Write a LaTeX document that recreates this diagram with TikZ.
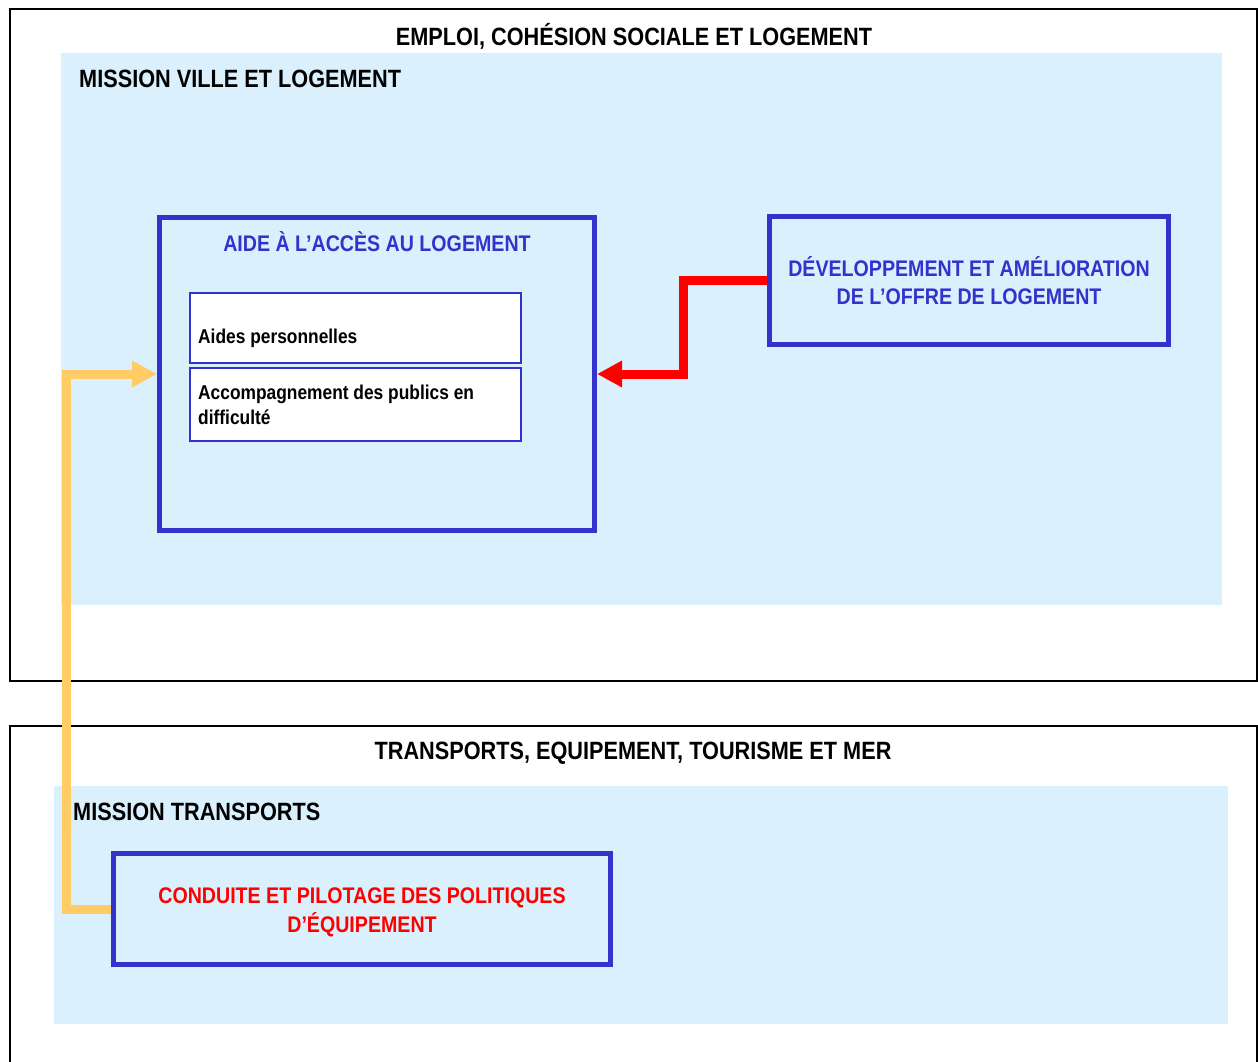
\documentclass[tikz,border=0pt]{standalone}
\usepackage{fontspec}
\setmainfont{Liberation Sans}[FakeStretch=0.868]
\usetikzlibrary{arrows.meta}
\definecolor{ministere}{HTML}{3333CC}
\definecolor{panneau}{HTML}{DAF0FD}
\definecolor{orangefleche}{HTML}{FFCC66}
\begin{document}
\begin{tikzpicture}[x=1pt,y=-1pt,
    cadre/.style={draw=black,line width=1.8pt,minimum width=1247pt,anchor=north west,inner sep=0pt},
    fond/.style={fill=panneau,draw=none,anchor=north west,inner sep=0pt},
    action/.style={draw=ministere,line width=5pt,anchor=north west,inner sep=0pt,
      align=center,font=\bfseries\fontsize{22.6}{28}\selectfont},
    sousaction/.style={draw=ministere,fill=white,line width=1.5pt,anchor=north west,
      minimum width=331pt,inner sep=0pt},
    titre/.style={font=\bfseries\fontsize{25}{29}\selectfont,inner sep=0pt},
    texte/.style={font=\bfseries\fontsize{20}{25}\selectfont,inner sep=0pt,anchor=west,align=left},
    fleche/.style={line width=9pt,-{Triangle[length=25pt,width=25pt]}}]
  \useasboundingbox (0,0) rectangle (1258,1062);
  % emploi, cohesion sociale et logement
  \node[cadre,minimum height=672pt] (emploi) at (9,8) {};
  \node[titre] (temploi) at (634,36) {EMPLOI, COHÉSION SOCIALE ET LOGEMENT};
  \node[fond,minimum width=1161pt,minimum height=552pt] (ville) at (61,53) {};
  \node[titre,anchor=west] (tville) at (79,79) {MISSION VILLE ET LOGEMENT};
  \node[action,minimum width=435pt,minimum height=313pt] (aide) at (157,215) {};
  \node[text=ministere,font=\bfseries\fontsize{22.6}{28}\selectfont,inner sep=0pt]
    (taide) at (377,242) {AIDE À L’ACCÈS AU LOGEMENT};
  \node[sousaction,minimum height=70pt] (perso) at (189,292) {};
  \node[texte] (tperso) at (198,338) {Aides personnelles};
  \node[sousaction,minimum height=73pt] (publics) at (189,367) {};
  \node[texte] (tpublics) at (198,405) {Accompagnement des publics en\\difficulté};
  \node[action,minimum width=399pt,minimum height=128pt,text=ministere] (offre) at (767,214)
    {DÉVELOPPEMENT ET AMÉLIORATION\\DE L’OFFRE DE LOGEMENT};
  % transports, equipement, tourisme et mer
  \node[cadre,minimum height=345pt] (transports) at (9,725) {};
  \node[titre] (ttransports) at (633,753) {TRANSPORTS, EQUIPEMENT, TOURISME ET MER};
  \node[fond,minimum width=1174pt,minimum height=238pt] (mission) at (54,786) {};
  \node[titre,anchor=west] (tmission) at (73,812) {MISSION TRANSPORTS};
  \node[action,minimum width=497pt,minimum height=111pt] (pilotage) at (111,851) {};
  \node[text=red,align=center,font=\bfseries\fontsize{22.6}{29}\selectfont,inner sep=0pt]
    (tpilotage) at ([yshift=-3pt]pilotage.center)
    {CONDUITE ET PILOTAGE DES POLITIQUES\\D’ÉQUIPEMENT};
  % fleches
  \coordinate (coude1) at (683,330);
  \coordinate (coude2) at (66,600);
  \draw[fleche,color=red] (offre.west) -| (coude1) |- (aide.east);
  \draw[fleche,color=orangefleche] (pilotage.west) -| (coude2) |- (aide.west);
\end{tikzpicture}
\end{document}
